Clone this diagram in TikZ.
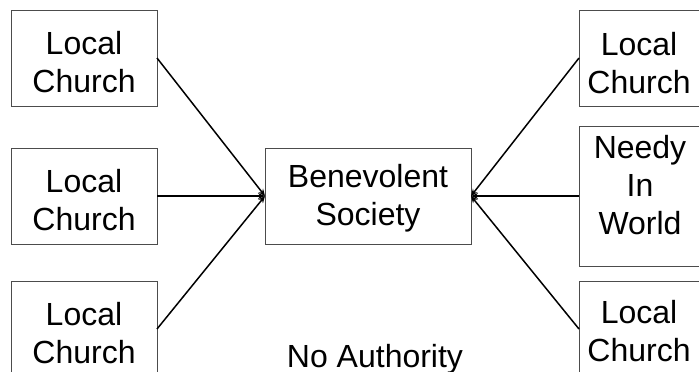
\documentclass[tikz,border=0pt]{standalone}
\usepackage{fontspec}
\setmainfont{Liberation Sans}
\usetikzlibrary{arrows.meta}
\begin{document}
\begin{tikzpicture}[x=1pt,y=-1pt,
  boxnode/.style={draw=black!70, line width=1pt, minimum width=146pt, minimum height=96pt, inner sep=0pt, outer sep=0pt},
  txt/.style={font=\fontsize{32}{38}\selectfont, align=center, inner sep=0pt, anchor=north},
  conn/.style={line width=1.5pt, -{Stealth[length=7pt,width=6pt]}}]
\useasboundingbox (0,0) rectangle (699,372);
\clip (0,0) rectangle (699,372);
% boxes
\node[boxnode] (l1) at (84,58) {};
\node[boxnode] (l2) at (84,196) {};
\node[boxnode] (l3) at (84,329) {};
\node[boxnode, minimum width=206pt] (c) at (368,196) {};
\node[boxnode, minimum width=124pt] (r1) at (641,58) {};
\node[boxnode, minimum width=124pt, minimum height=140pt] (r2) at (641,196) {};
\node[boxnode, minimum width=124pt] (r3) at (641,329) {};
% texts
\node[txt] (tl1) at (84,31) {Local\\Church};
\node[txt] (tl2) at (84,169) {Local\\Church};
\node[txt] (tl3) at (84,302) {Local\\Church};
\node[txt] (tc) at (368,164) {Benevolent\\Society};
\node[txt] (tr1) at (639,32) {Local\\Church};
\node[txt] (tr2) at (640,135) {Needy\\In\\World};
\node[txt] (tr3) at (639,300) {Local\\Church};
\node[font=\fontsize{32}{38}\selectfont, inner sep=0pt, anchor=base] (na) at (375,367) {No Authority};
% connectors
\draw[conn] (l1.east) -- (c.west);
\draw[conn] (l2.east) -- (c.west);
\draw[conn] (l3.east) -- (c.west);
\draw[conn] (r1.west) -- (c.east);
\draw[conn] (r2.west) -- (c.east);
\draw[conn] (r3.west) -- (c.east);
\end{tikzpicture}
\end{document}
